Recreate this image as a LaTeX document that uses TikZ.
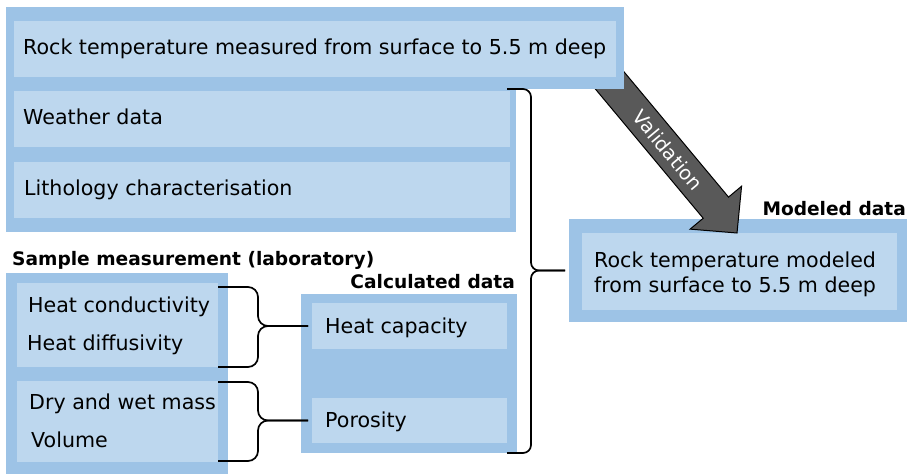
\documentclass[tikz,border=0pt]{standalone}
\usepackage{fontspec}
\setmainfont{DejaVu Sans}
\usepackage{calc}
\usetikzlibrary{calc}
\definecolor{outerblue}{HTML}{9DC3E6}
\definecolor{innerblue}{HTML}{BDD7EE}
\definecolor{arrowgray}{HTML}{595959}
\begin{document}
\begin{tikzpicture}[x=1pt,y=-1pt,
  box/.style={inner sep=0pt, outer sep=0pt, anchor=north west, draw=none},
  outerbox/.style={box, fill=outerblue},
  innerbox/.style={box, fill=innerblue},
  txt/.style={inner sep=0pt, anchor=base west, font=\fontsize{20.6}{24}\selectfont},
  head/.style={inner sep=0pt, font=\bfseries\fontsize{18.6}{22}\selectfont},
  curly/.style={draw=black, line width=1.7pt, rounded corners=#1},
  curly/.default=10pt,
  bigarrow/.style={fill=arrowgray, draw=black, line width=1pt},
]
\useasboundingbox (0,0) rectangle (907,474);

% modeled data block
\node[outerbox, minimum width=340pt, minimum height=103pt] (modelout) at (569,219) {};
\node[innerbox, minimum width=315pt, minimum height=77pt] (modelin) at (582,233) {};

% validation arrow (its tail is hidden under the field block)
\coordinate (aT) at ($(modelin.north west)+(155,0)$);
\coordinate (aS) at (596,64);
\coordinate (aB) at ($(aT)!33pt!(aS)$);
\draw[bigarrow] ($(aS)!16.5pt!90:(aT)$) -- ($(aB)!16.5pt!90:(aT)$)
  -- ($(aB)!33.5pt!90:(aT)$) -- (aT) -- ($(aB)!33.5pt!-90:(aT)$)
  -- ($(aB)!16.5pt!-90:(aT)$) -- ($(aS)!16.5pt!-90:(aT)$) -- cycle;
\path (aS) -- (aT) node[pos=0.51, sloped, text=white, inner sep=0pt,
  font=\fontsize{19.5}{22}\selectfont] (val) {Validation};

% field measurement block
\node[outerbox, minimum width=618pt, minimum height=82pt] (fieldtop) at (6,7) {};
\node[outerbox, minimum width=510pt, minimum height=143pt] (fieldbody) at (6,89) {};
\node[innerbox, minimum width=602pt, minimum height=56pt] (rock) at (14,21) {};
\node[innerbox, minimum width=496pt, minimum height=56pt] (weather) at (14,91) {};
\node[innerbox, minimum width=496pt, minimum height=56pt] (litho) at (14,162) {};

% laboratory block
\node[outerbox, minimum width=222pt, minimum height=201pt] (sample) at (6,273) {};
\node[innerbox, minimum width=201pt, minimum height=84pt] (lab1) at (17,283) {};
\node[innerbox, minimum width=201pt, minimum height=81pt] (lab2) at (17,381) {};

% calculated block
\node[outerbox, minimum width=216pt, minimum height=159pt] (calc) at (301,294) {};
\node[innerbox, minimum width=195pt, minimum height=46pt] (hcap) at (312,303) {};
\node[innerbox, minimum width=195pt, minimum height=45pt] (poro) at (312,398) {};

% headings
\node[head, anchor=base west] (hsample) at (12,265) {Sample measurement (laboratory)};
\node[head, anchor=base east] (hcalc) at (515,288) {Calculated data};
\node[head, anchor=base east] (hmodel) at (906,215) {Modeled data};

% texts
\node[txt] (trock) at (23,54) {Rock temperature measured from surface to 5.5 m deep};
\node[txt] (tweather) at (23,124) {Weather data};
\node[txt] (tlitho) at (24,195) {Lithology characterisation};
\node[txt] (tcond) at (28,312) {Heat conductivity};
\node[txt] (tdiff) at (27,350) {Heat diffusivity};
\node[txt] (tmass) at (29,409) {Dry and wet mass};
\node[txt] (tvol) at (31,447) {Volume};
\node[txt] (thcap) at (325,333) {Heat capacity};
\node[txt] (tporo) at (325,427) {Porosity};
\node[txt] (tmod1) at (594,267)
  {\makebox[\widthof{from surface to 5.5 m deep}][s]{Rock temperature modeled}};
\node[txt] (tmod2) at (594,292) {from surface to 5.5 m deep};

% braces from the measurements to the calculated values
\coordinate (p1) at ($(lab1.north east)+(0,4)$);
\coordinate (v1) at ($(lab1.north east)+(40,0)$);
\coordinate (e1) at ($(hcap.west)+(-4,0)$);
\draw[curly] (p1) -- (p1 -| v1) -- (v1 |- e1) -- (e1);
\draw[curly] (lab1.south east) -- (lab1.south east -| v1) -- (v1 |- e1) -- (e1);

\coordinate (p2) at ($(lab2.north east)+(0,1)$);
\coordinate (q2) at ($(lab2.south east)+(0,-1)$);
\coordinate (e2) at ($(poro.west)+(-4,0)$);
\draw[curly] (p2) -- (p2 -| v1) -- (v1 |- e2) -- (e2);
\draw[curly] (q2) -- (q2 -| v1) -- (v1 |- e2) -- (e2);

% brace from all inputs to the model
\coordinate (p3) at ($(fieldbody.north east)+(-9,0)$);
\coordinate (q3) at ($(calc.south east)+(-10,0)$);
\coordinate (v3) at ($(fieldbody.north east)+(15,0)$);
\coordinate (e3) at ($(modelout.west)+(-4,0)$);
\draw[curly=8pt] (p3) -- (p3 -| v3) -- (v3 |- e3) -- (e3);
\draw[curly=8pt] (q3) -- (q3 -| v3) -- (v3 |- e3) -- (e3);
\end{tikzpicture}
\end{document}
